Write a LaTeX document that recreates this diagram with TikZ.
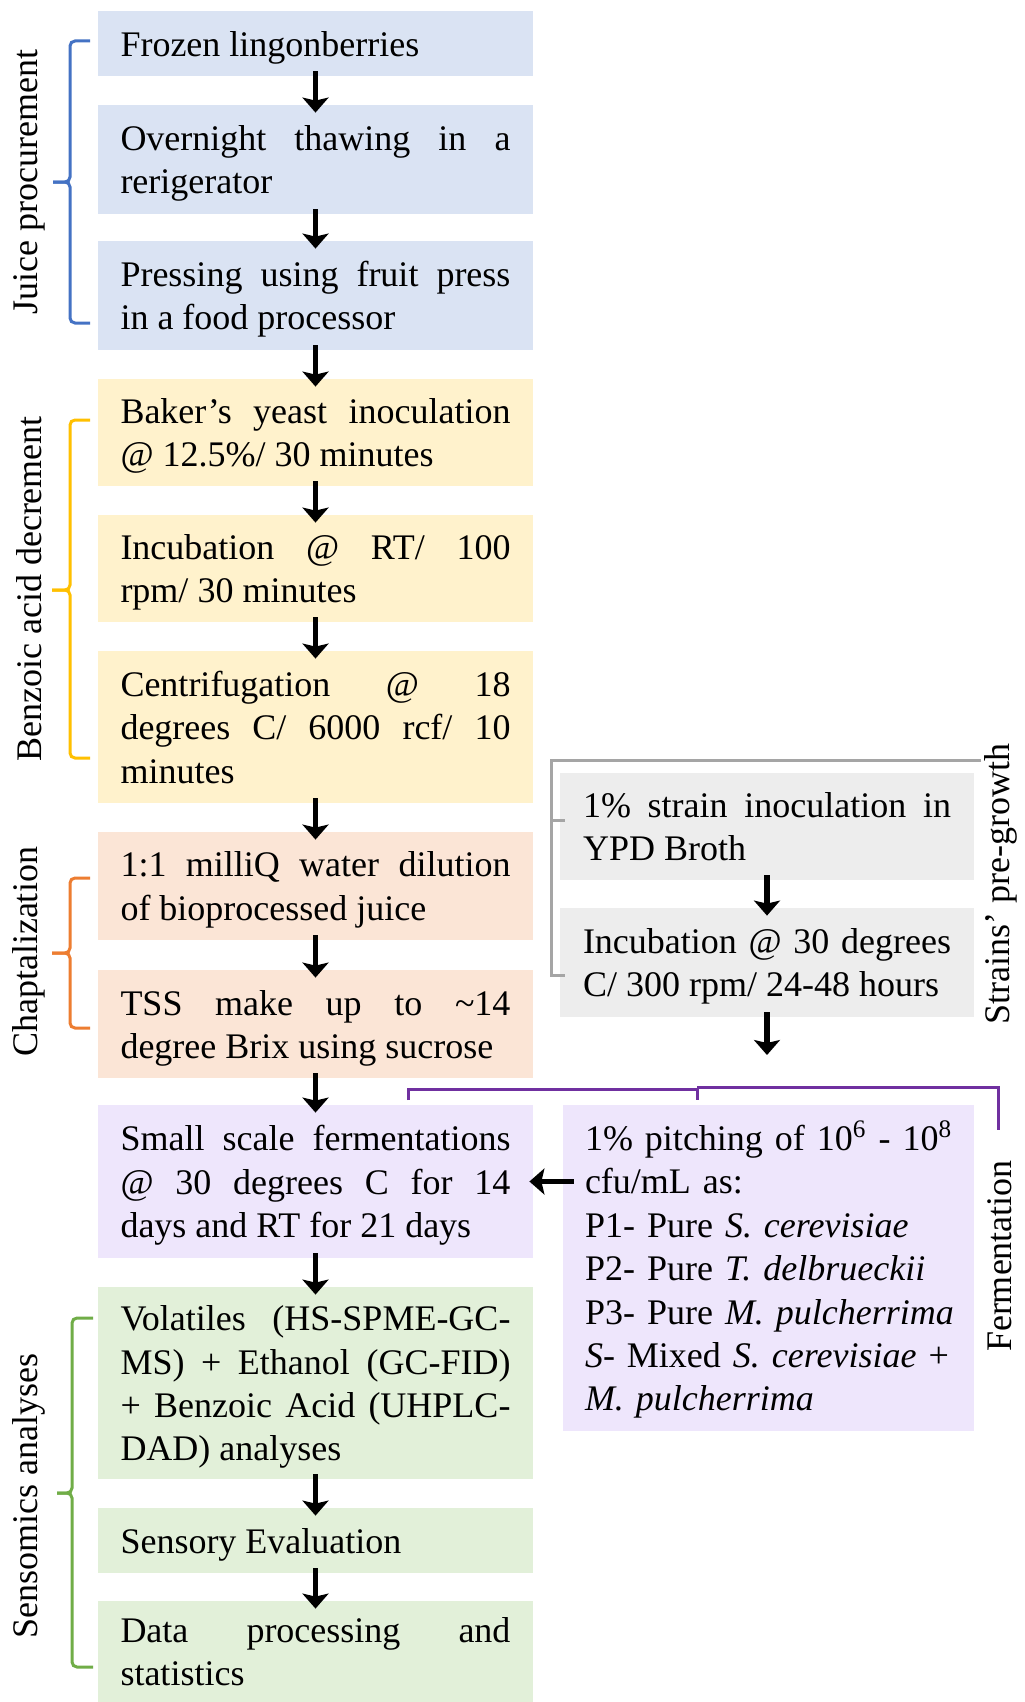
\documentclass[tikz,border=0pt]{standalone}
\usepackage{fontspec}
\setmainfont{Liberation Serif}
\usetikzlibrary{arrows.meta}
\definecolor{cblue}{HTML}{DAE3F3}
\definecolor{cyellow}{HTML}{FFF2CC}
\definecolor{cpeach}{HTML}{FBE5D6}
\definecolor{cpurple}{HTML}{EEE6FC}
\definecolor{cgreen}{HTML}{E2F0D9}
\definecolor{cgrey}{HTML}{EDEDED}
\definecolor{lblue}{HTML}{4472C4}
\definecolor{lyellow}{HTML}{FFC000}
\definecolor{lorange}{HTML}{ED7D31}
\definecolor{lgreen}{HTML}{70AD47}
\definecolor{lgrey}{HTML}{A5A5A5}
\definecolor{lpurple}{HTML}{7030A0}
\newcommand{\topstrut}{\rule{0pt}{19.2pt}}
\begin{document}
\begin{tikzpicture}[
  x=1pt,y=1pt,
  stepbox/.style={rectangle, inner xsep=11.25pt, inner ysep=0pt, text width=195pt,
    minimum width=217.5pt, align=justify, font=\fontsize{18}{21.7}\selectfont,
    anchor=center, execute at begin node=\topstrut, execute at end node=\strut},
  rbox/.style={stepbox, text width=184pt, minimum width=207pt, inner xsep=11.5pt},
  lab/.style={font=\fontsize{18}{21.7}\selectfont, rotate=90, inner sep=0pt},
  arr/.style={line width=2.6pt, -{Stealth[width=13pt,length=7.5pt,inset=1.5pt]}},
  brk/.style={line width=1.5pt, rounded corners=2.5pt},
  sqbrk/.style={line width=1.5pt}
]
\fill[white] (0,0) rectangle (512,-851);
\useasboundingbox (0,0) rectangle (512,-851);

% left column
\node[stepbox, fill=cblue, minimum height=32.5pt] (b1) at (157.75,-21.75) {Frozen lingonberries};
\node[stepbox, fill=cblue, minimum height=54.5pt] (b2) at (157.75,-79.75) {Overnight thawing in a\linebreak rerigerator};
\node[stepbox, fill=cblue, minimum height=54.5pt] (b3) at (157.75,-147.75) {Pressing using fruit press\linebreak in a food processor};
\node[stepbox, fill=cyellow, minimum height=53.5pt] (b4) at (157.75,-216.25) {Baker’s yeast inoculation\linebreak @ 12.5\%/ 30 minutes};
\node[stepbox, fill=cyellow, minimum height=53.5pt] (b5) at (157.75,-284.25) {Incubation @ RT/ 100\linebreak rpm/ 30 minutes};
\node[stepbox, fill=cyellow, minimum height=76pt] (b6) at (157.75,-363.5) {Centrifugation @ 18\linebreak degrees C/ 6000 rcf/ 10\linebreak minutes};
\node[stepbox, fill=cpeach, minimum height=54pt] (b7) at (157.75,-443) {1:1 milliQ water dilution\linebreak of bioprocessed juice};
\node[stepbox, fill=cpeach, minimum height=54pt] (b8) at (157.75,-512) {TSS make up to \textasciitilde14\linebreak degree Brix using sucrose};
\node[stepbox, fill=cpurple, minimum height=76.5pt] (b9) at (157.75,-590.75) {Small scale fermentations\linebreak @ 30 degrees C for 14\linebreak days and RT for 21 days};
\node[stepbox, fill=cgreen, minimum height=96pt] (b10) at (157.75,-691.5) {Volatiles (HS-SPME-GC-\linebreak MS) + Ethanol (GC-FID)\linebreak + Benzoic Acid (UHPLC-\linebreak DAD) analyses};
\node[stepbox, fill=cgreen, minimum height=32.5pt] (b11) at (157.75,-770.25) {Sensory Evaluation};
\node[stepbox, fill=cgreen, minimum height=50.5pt] (b12) at (157.75,-825.75) {Data processing and\linebreak statistics};

% right column
\node[rbox, fill=cgrey, minimum height=53.5pt] (s1) at (383.5,-413.25) {1\% strain inoculation in\linebreak YPD Broth};
\node[rbox, fill=cgrey, minimum height=54.5pt] (s2) at (383.5,-481.25) {Incubation @ 30 degrees\linebreak C/ 300 rpm/ 24-48 hours};
\node[rbox, fill=cpurple, minimum height=163pt, align=left, inner xsep=11pt, minimum width=205.5pt, text width=183.5pt] (p) at (384.25,-634) {\mbox{1\% pitching of 10\textsuperscript{6} - 10\textsuperscript{8}}\\\mbox{cfu/mL as:}\\\mbox{P1- Pure \textit{S. cerevisiae}}\\\mbox{P2- Pure \textit{T. delbrueckii}}\\\mbox{P3- Pure \textit{M. pulcherrima}}\\\mbox{\textit{S}- Mixed \textit{S. cerevisiae} +}\\\mbox{\textit{M. pulcherrima}}};
\coordinate (s2end) at (383.5,-527.5);

% arrows
\foreach \a/\b in {b1/b2,b2/b3,b3/b4,b4/b5,b5/b6,b6/b7,b7/b8,b8/b9,b9/b10,b10/b11,b11/b12,s1/s2}
  \draw[arr] ([yshift=2.5pt]\a.south) -- ([yshift=-4pt]\b.north);
\draw[arr] ([yshift=2.5pt]s2.south) -- (s2end);
\draw[arr] ([xshift=5.5pt]p.west |- b9.east) -- ([xshift=-2pt]b9.east);

% left brackets
\draw[brk, lblue] (45,-20.5) -- (35,-20.5) -- (35,-91) -- (26.5,-91);
\draw[brk, lblue] (45,-161.5) -- (35,-161.5) -- (35,-91) -- (26.5,-91);
\draw[brk, lyellow] (45,-210) -- (35,-210) -- (35,-295) -- (26,-295);
\draw[brk, lyellow] (45,-379) -- (35,-379) -- (35,-295) -- (26,-295);
\draw[brk, lorange] (45,-439) -- (35,-439) -- (35,-476.5) -- (26,-476.5);
\draw[brk, lorange] (45,-514) -- (35,-514) -- (35,-476.5) -- (26,-476.5);
\draw[brk, lgreen] (46.5,-659) -- (36,-659) -- (36,-746.5) -- (28.5,-746.5);
\draw[brk, lgreen] (46.5,-833.5) -- (36,-833.5) -- (36,-746.5) -- (28.5,-746.5);

% right brackets
\draw[sqbrk, lgrey] (490.5,-380) -- (275.5,-380) -- (275.5,-487.5) -- (282.5,-487.5);
\draw[sqbrk, lgrey] (275.5,-410) -- (282.5,-410);
\draw[sqbrk, lpurple] (204,-550) -- (204,-544.5) -- (348.5,-544.5) -- (348.5,-550);
\draw[sqbrk, lpurple] (348.5,-543.5) -- (499,-543.5) -- (499,-565);

% labels
\node[lab] (ljuice) at (14.5,-91) {Juice procurement};
\node[lab] (lbenz) at (14.5,-294.5) {Benzoic acid decrement};
\node[lab] (lchap) at (14.5,-476) {Chaptalization};
\node[lab] (lsens) at (14.5,-748) {Sensomics analyses};
\node[lab] (lstrain) at (500.5,-442) {Strains’ pre-growth};
\node[lab] (lferm) at (500,-628) {Fermentation};
\end{tikzpicture}
\end{document}
